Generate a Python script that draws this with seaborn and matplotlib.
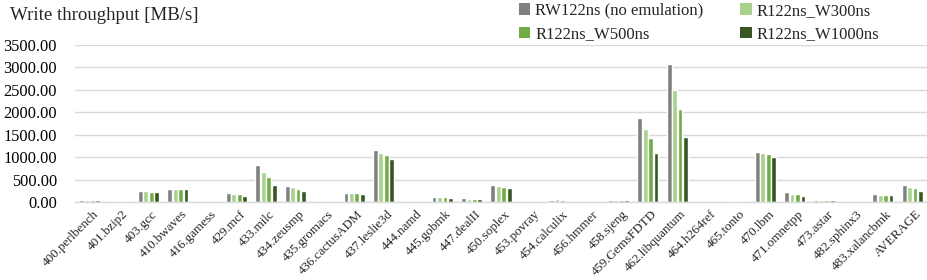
import matplotlib
matplotlib.use("Agg")
import matplotlib.pyplot as plt
import matplotlib.transforms as mtransforms
import seaborn as sns
import pandas as pd
from matplotlib.ticker import FormatStrFormatter
from matplotlib.patches import Patch

categories = ["400.perlbench", "401.bzip2", "403.gcc", "410.bwaves", "416.gamess", "429.mcf",
              "433.milc", "434.zeusmp", "435.gromacs", "436.cactusADM", "437.leslie3d", "444.namd",
              "445.gobmk", "447.dealII", "450.soplex", "453.povray", "454.calculix", "456.hmmer",
              "458.sjeng", "459.GemsFDTD", "462.libquantum", "464.h264ref", "465.tonto", "470.lbm",
              "471.omnetpp", "473.astar", "482.sphinx3", "483.xalancbmk", "AVERAGE"]
series = ["RW122ns (no emulation)", "R122ns_W300ns", "R122ns_W500ns", "R122ns_W1000ns"]

rw122 = [50, 22, 250, 295, 2, 205, 830, 365, 2, 200, 1150, 2, 110, 80, 370, 2, 38, 5, 50, 1875, 3075, 12, 20, 1125, 215, 42, 2, 170, 380]
w300 = [50, 22, 235, 290, 2, 185, 665, 325, 2, 192, 1090, 2, 105, 72, 355, 2, 58, 5, 45, 1635, 2495, 5, 20, 1095, 180, 38, 2, 156, 335]
w500 = [50, 22, 225, 292, 2, 170, 555, 295, 2, 190, 1050, 2, 105, 72, 345, 2, 42, 5, 45, 1435, 2078, 4, 20, 1072, 170, 38, 2, 156, 305]
w1000 = [50, 22, 215, 285, 2, 135, 380, 245, 2, 182, 960, 2, 100, 70, 310, 2, 32, 5, 45, 1088, 1445, 4, 20, 1005, 127, 34, 2, 148, 253]

colors = ["#808080", "#a9d18e", "#70ad47", "#375623"]

rows = []
for s, vals in zip(series, [rw122, w300, w500, w1000]):
    for c, v in zip(categories, vals):
        rows.append({"cat": c, "series": s, "value": v})
df = pd.DataFrame(rows)

sns.set_theme(style="white")
plt.rcParams["font.family"] = ["Liberation Serif", "DejaVu Serif"]

fig = plt.figure(figsize=(9.27, 2.80), dpi=100)
ax = fig.add_axes([75 / 927, 1 - 202 / 280, (927 - 75) / 927, (202 - 45) / 280])

sns.barplot(data=df, x="cat", y="value", hue="series", palette=colors, ax=ax,
            width=0.74, gap=0.12, legend=False, errorbar=None, saturation=1)

ax.set_ylim(0, 3500)
ax.set_yticks([0, 500, 1000, 1500, 2000, 2500, 3000, 3500])
ax.yaxis.set_major_formatter(FormatStrFormatter("%.2f"))
ax.set_xlim(-0.5, len(categories) - 0.5)
ax.grid(axis="y", color="#d9d9d9", linewidth=1)
ax.set_axisbelow(True)
for sp in ["top", "right", "left"]:
    ax.spines[sp].set_visible(False)
ax.spines["bottom"].set_color("#d9d9d9")
ax.spines["bottom"].set_linewidth(1)
ax.tick_params(axis="both", length=0)
ax.tick_params(axis="y", labelsize=11.8, pad=13, colors="black")
ax.set_xlabel("")
ax.set_ylabel("")
ax.tick_params(axis="x", pad=4.5)
offset = mtransforms.ScaledTranslation(3 / 100, 0, fig.dpi_scale_trans)
for lbl in ax.get_xticklabels():
    lbl.set_rotation(45)
    lbl.set_ha("right")
    lbl.set_rotation_mode("anchor")
    lbl.set_fontsize(9.4)
    lbl.set_transform(lbl.get_transform() + offset)

fig.text(10 / 927, 1 - 16 / 280, "Write throughput [MB/s]", fontsize=13.6, va="center", ha="left")

handles = [Patch(facecolor=c, edgecolor="none") for c in colors]
order = [0, 2, 1, 3]
fig.legend([handles[i] for i in order], [series[i] for i in order], ncol=2,
           loc="upper left", bbox_to_anchor=(512 / 927, 1.0 + 4 / 280), frameon=False,
           fontsize=12, handlelength=0.7, handleheight=0.7, handletextpad=0.3,
           columnspacing=2.2, labelspacing=0.45, borderaxespad=0.0)

fig.savefig("out.png", dpi=100)
